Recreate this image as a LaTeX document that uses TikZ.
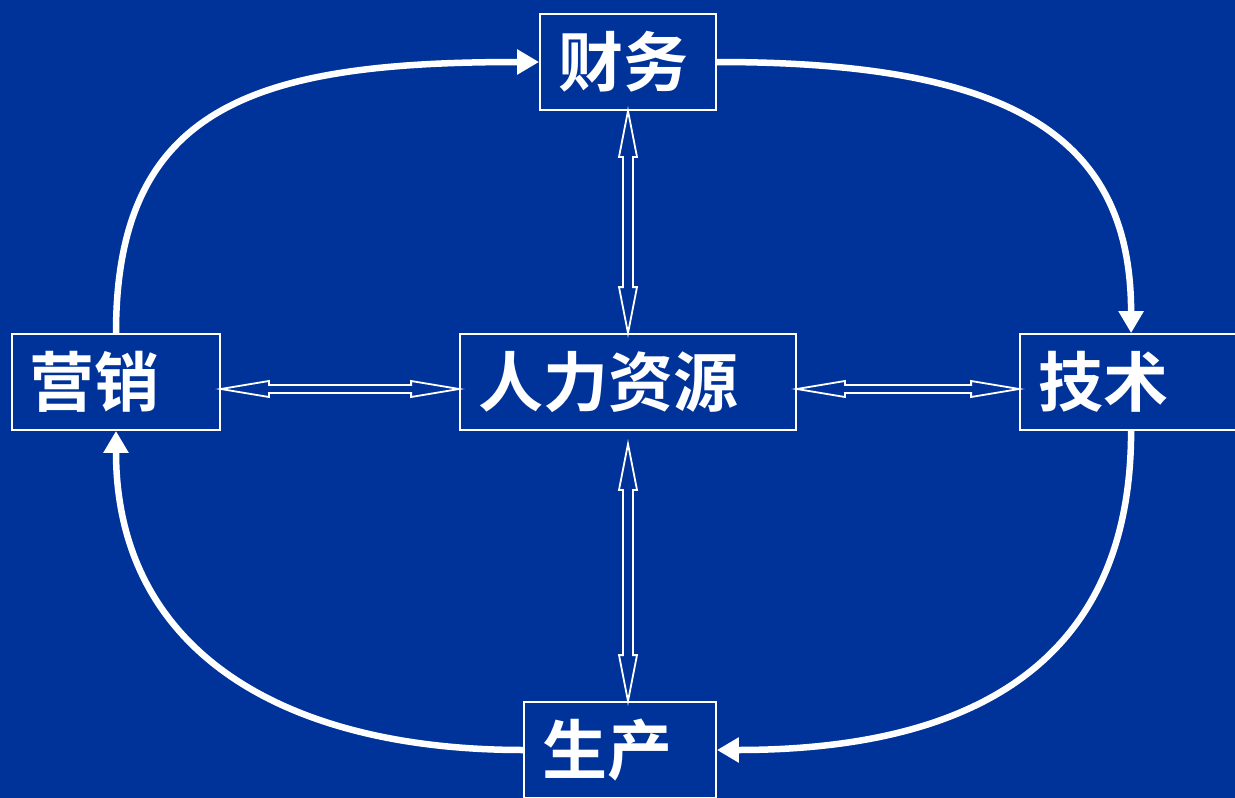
\documentclass[tikz,border=0pt]{standalone}
\usepackage{fontspec}
\newfontfamily\cjk{Noto Sans CJK SC Bold}
\usetikzlibrary{calc,arrows.meta}
\definecolor{bg}{RGB}{0,51,153}
\tikzset{
  box/.style={draw=white, line width=1.8pt, minimum height=96pt, inner xsep=18pt, inner ysep=0pt, align=left, text=white, font=\cjk\fontsize{65}{70}\selectfont},
  flow/.style={draw=white, line width=6.5pt, -{Triangle[length=22pt,width=24pt]}},
  hollow/.style={draw=white, line width=1.8pt, line join=miter}
}
\begin{document}
\begin{tikzpicture}[x=1pt,y=-1pt]
\useasboundingbox (0,0) rectangle (1235,798);
\clip (0,0) rectangle (1235,798);
\fill[bg] (0,0) rectangle (1235,798);
\node[box, text width=140pt] (cw) at (628,62) {财务};
\node[box, text width=172pt] (yx) at (116,382) {营销};
\node[box, text width=300pt] (rl) at (628,382) {人力资源};
\node[box, text width=184pt] (js) at (1130,382) {技术};
\node[box, text width=156pt] (sc) at (620,750) {生产};
\coordinate (jsT) at ($(js.north west)+(112,0)$);
\coordinate (jsB) at ($(js.south west)+(112,0)$);
% main cycle
\draw[flow] (yx.north) .. controls ($(yx.north)+(0,-230)$) and ($(cw.west)+(-280,0)$) .. (cw.west);
\draw[flow] (cw.east) .. controls ($(cw.east)+(290,0)$) and ($(jsT)+(0,-200)$) .. (jsT);
\draw[flow] (jsB) .. controls ($(jsB)+(0,250)$) and ($(sc.east)+(230,0)$) .. (sc.east);
\draw[flow] (sc.west) .. controls ($(sc.west)+(-240,0)$) and ($(yx.south)+(0,220)$) .. (yx.south);
% hollow double arrows horizontal
\coordinate (h1a) at ($(yx.east)+(0,7)$);
\coordinate (h1b) at ($(rl.west)+(0,7)$);
\draw[hollow] (h1a) -- ++(48,-8) -- ++(0,4) -- ($(h1b)+(-48,-4)$) -- ++(0,-4) -- (h1b) -- ++(-48,8) -- ++(0,-4) -- ($(h1a)+(48,4)$) -- ++(0,4) -- cycle;
\coordinate (h2a) at ($(rl.east)+(0,7)$);
\coordinate (h2b) at ($(js.west)+(0,7)$);
\draw[hollow] (h2a) -- ++(48,-8) -- ++(0,4) -- ($(h2b)+(-48,-4)$) -- ++(0,-4) -- (h2b) -- ++(-48,8) -- ++(0,-4) -- ($(h2a)+(48,4)$) -- ++(0,4) -- cycle;
% vertical
\coordinate (v1a) at (cw.south);
\coordinate (v1b) at (rl.north);
\draw[hollow] (v1a) -- ++(9,46) -- ++(-4,0) -- ($(v1b)+(5,-46)$) -- ++(4,0) -- (v1b) -- ++(-9,-46) -- ++(4,0) -- ($(v1a)+(-5,46)$) -- ++(-4,0) -- cycle;
\coordinate (v2a) at ($(rl.south)+(0,13)$);
\coordinate (v2b) at ($(sc.north)+(8,0)$);
\draw[hollow] (v2a) -- ++(9,46) -- ++(-4,0) -- ($(v2b)+(5,-46)$) -- ++(4,0) -- (v2b) -- ++(-9,-46) -- ++(4,0) -- ($(v2a)+(-5,46)$) -- ++(-4,0) -- cycle;
\end{tikzpicture}
\end{document}
